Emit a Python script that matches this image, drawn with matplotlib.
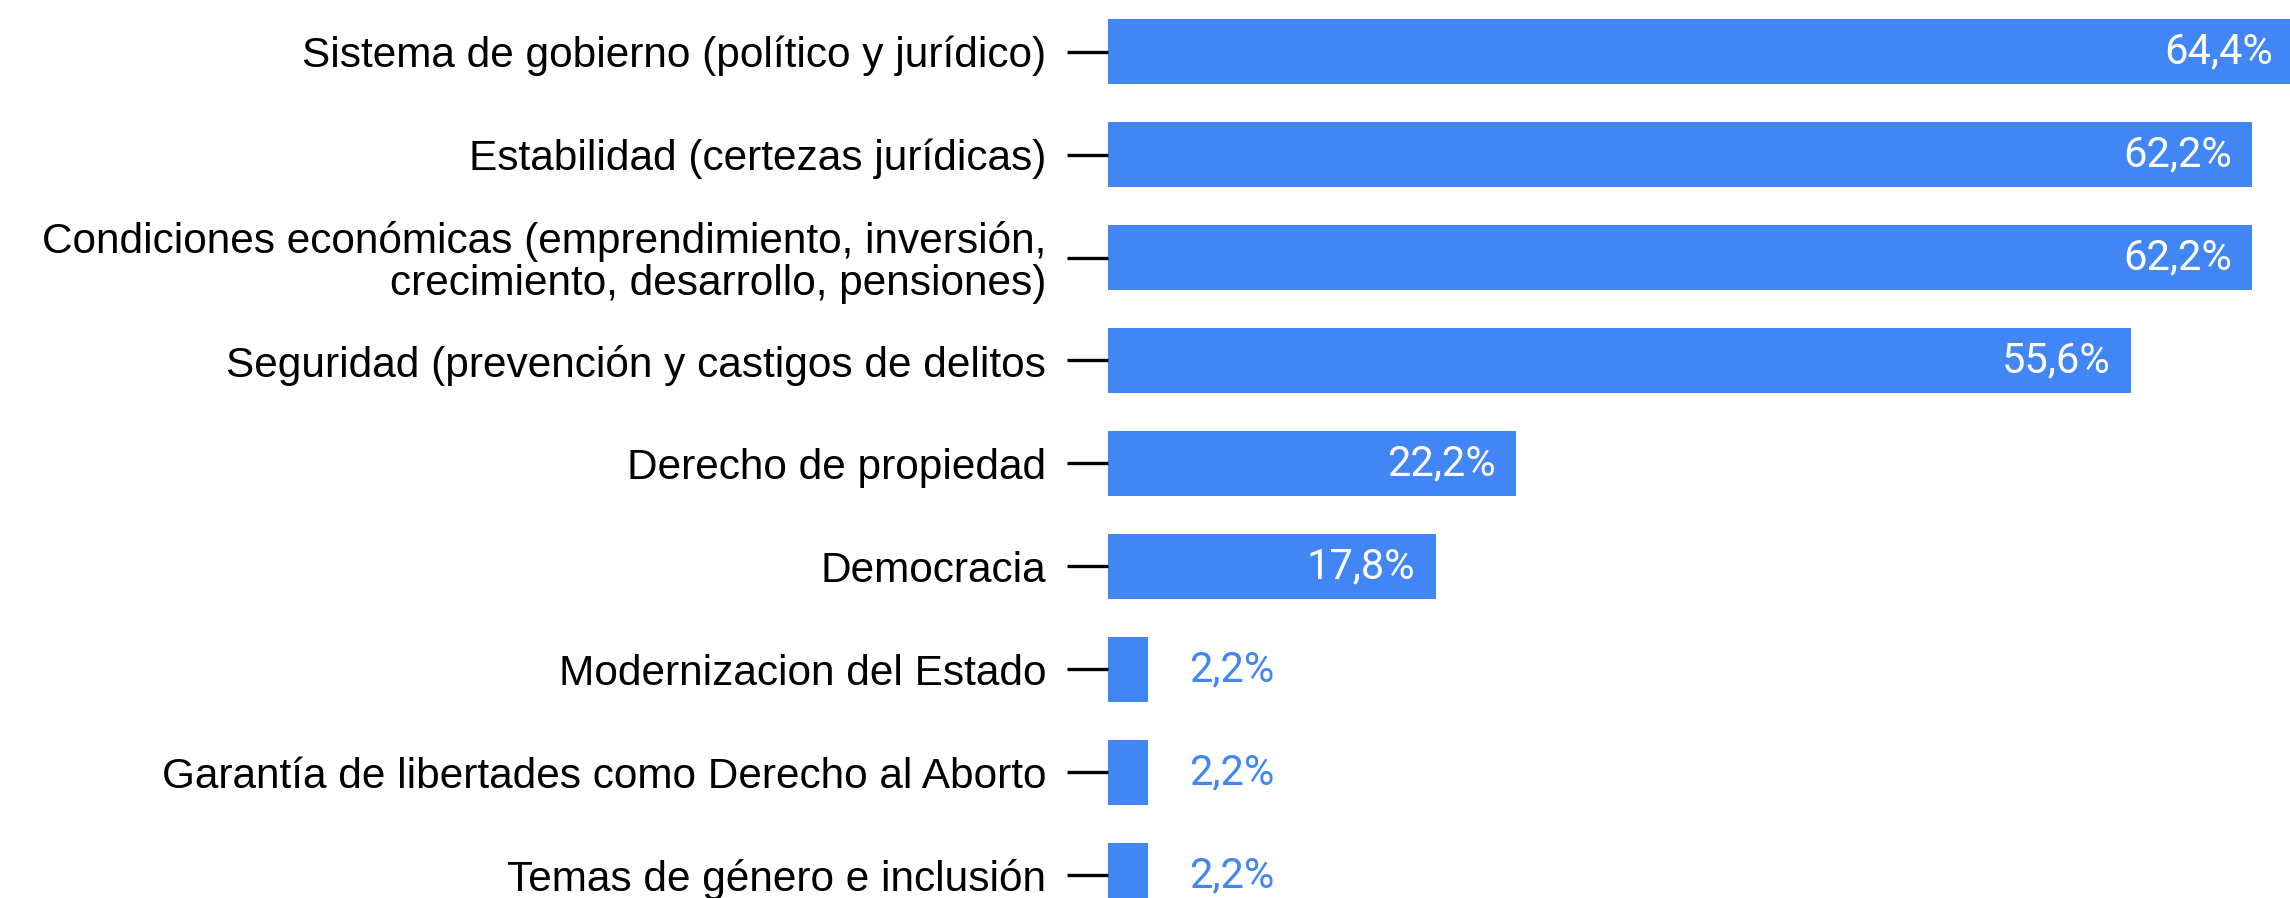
import matplotlib
matplotlib.use("Agg")
import matplotlib.pyplot as plt

# datos de la encuesta
categorias = [
    "Sistema de gobierno (político y jurídico)",
    "Estabilidad (certezas jurídicas)",
    "Condiciones económicas (emprendimiento, inversión,\ncrecimiento, desarrollo, pensiones)",
    "Seguridad (prevención y castigos de delitos",
    "Derecho de propiedad",
    "Democracia",
    "Modernizacion del Estado",
    "Garantía de libertades como Derecho al Aborto",
    "Temas de género e inclusión",
]
valores = [64.4, 62.2, 62.2, 55.6, 22.2, 17.8, 2.2, 2.2, 2.2]
etiquetas = ["64,4%", "62,2%", "62,2%", "55,6%", "22,2%", "17,8%", "2,2%", "2,2%", "2,2%"]

azul = "#4285F4"
W, H = 2290, 898

fig = plt.figure(figsize=(W / 100, H / 100), dpi=100)
# el eje empieza donde arrancan las barras
ax = fig.add_axes([1108 / W, 0, 1 - 1108 / W, 1])

pos = list(range(len(categorias)))
ax.barh(pos, valores, height=0.63, color=azul)

ax.set_xlim(0, (W - 1108) / 18.4)
ax.set_ylim((H - 51.5) / 103, -51.5 / 103)

ax.set_yticks(pos)
ax.set_yticklabels(categorias, fontsize=30.5, linespacing=1.05,
                   family=["Liberation Sans Narrow", "Liberation Sans"])
ax.tick_params(axis="y", length=29.5, width=2.4, pad=15, color="black")
ax.set_xticks([])
for s in ax.spines.values():
    s.set_visible(False)

for p, v, t in zip(pos, valores, etiquetas):
    if v > 10:
        ax.text(v - 1.1, p, t, ha="right", va="center", color="white",
                fontsize=30, family="Roboto")
    else:
        ax.text(v + 2.2, p, t, ha="left", va="center", color=azul,
                fontsize=30, family="Roboto")

fig.savefig("out.png", dpi=100)
